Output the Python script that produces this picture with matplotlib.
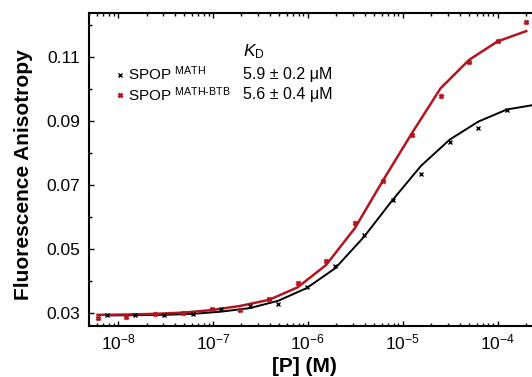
import matplotlib
matplotlib.use('Agg')
import matplotlib.pyplot as plt
from matplotlib.lines import Line2D

plt.rcParams['font.family'] = 'Liberation Sans'
plt.rcParams['mathtext.fontset'] = 'custom'
plt.rcParams['mathtext.rm'] = 'Liberation Sans'
plt.rcParams['mathtext.it'] = 'Liberation Sans:italic'
plt.rcParams['mathtext.bf'] = 'Liberation Sans:bold'

# SPOP MATH-BTB (red), 2-fold dilution series
conc_btb = [6.1e-9, 1.22e-8, 2.44e-8, 4.88e-8, 9.77e-8, 1.95e-7, 3.91e-7, 7.81e-7,
            1.56e-6, 3.13e-6, 6.25e-6, 1.25e-5, 2.5e-5, 5e-5, 1e-4, 2e-4]
fa_btb = [0.0283, 0.0288, 0.0297, 0.0299, 0.0311, 0.0308, 0.0344, 0.0395,
          0.0463, 0.0580, 0.0711, 0.0857, 0.0978, 0.1084, 0.1149, 0.1209]
fit_btb = [0.0294, 0.0295, 0.0297, 0.0301, 0.0309, 0.0322, 0.0341, 0.0380,
           0.0450, 0.0565, 0.0716, 0.0862, 0.1002, 0.1091, 0.1149, 0.1181]

# SPOP MATH (black)
conc_math = [7.63e-9, 1.53e-8, 3.05e-8, 6.1e-8, 1.22e-7, 2.44e-7, 4.88e-7, 9.77e-7,
             1.95e-6, 3.91e-6, 7.81e-6, 1.56e-5, 3.13e-5, 6.25e-5, 1.25e-4]
fa_math = [0.0292, 0.0294, 0.0292, 0.0297, 0.0312, 0.0322, 0.0328, 0.0380,
           0.0447, 0.0544, 0.0653, 0.0733, 0.0835, 0.0879, 0.0934]
fit_conc_math = conc_math + [2.5e-4]
fit_math = [0.0292, 0.0293, 0.0294, 0.0297, 0.0304, 0.0315, 0.0338, 0.0378,
            0.0440, 0.0538, 0.0653, 0.0760, 0.0842, 0.0898, 0.0936, 0.0951]

labels = ['SPOP $^{\\mathrm{MATH}}$', 'SPOP $^{\\mathrm{MATH\\text{-}BTB}}$']
kd_text = ['5.9 \u00b1 0.2 \u03bcM', '5.6 \u00b1 0.4 \u03bcM']
yticks = [0.03, 0.05, 0.07, 0.09, 0.11]

red = '#b2151d'

fig = plt.figure(figsize=(5.32, 3.77), dpi=100)
ax = fig.add_axes([0.168, 0.136, 0.832, 0.829])

ax.plot(fit_conc_math, fit_math, color='black', lw=1.4, zorder=2)
ax.plot(conc_btb, fit_btb, color=red, lw=1.8, zorder=3)
ax.plot(conc_math, fa_math, ls='none', marker='x', ms=3.5, mew=1.0, color='black', zorder=4)
ax.plot(conc_btb, fa_btb, ls='none', marker='x', ms=3.2, mew=1.8, color=red, zorder=4)

ax.set_xscale('log')
ax.set_xlim(5e-9, 2.3e-4)
ax.set_ylim(0.026, 0.1237)
ax.set_yticks(yticks)
ax.set_yticklabels(['%.2f' % v for v in yticks])
ax.set_yticks([0.04, 0.06, 0.08, 0.10, 0.12], minor=True)

for s in ['left', 'bottom', 'top']:
    ax.spines[s].set_linewidth(1.5)
ax.spines['right'].set_visible(False)
ax.tick_params(which='both', direction='in', top=True, right=False, width=1.0, labelsize=12.5)
ax.tick_params(axis='x', pad=5)
ax.tick_params(axis='y', pad=6.5)
ax.tick_params(which='major', length=3.5)
ax.tick_params(which='minor', length=2.2)

ax.set_ylabel('Fluorescence Anisotropy', fontsize=15, fontweight='bold')
ax.yaxis.set_label_coords(-0.128, 0.485)
ax.set_xlabel('[P] (M)', fontsize=15, fontweight='bold')
ax.xaxis.set_label_coords(0.485, -0.10)

handles = [Line2D([], [], ls='none', marker='x', ms=3.5, mew=1.0, color='black'),
           Line2D([], [], ls='none', marker='x', ms=3.2, mew=1.8, color=red)]
ax.legend(handles, labels, loc='upper left', bbox_to_anchor=(0.044, 0.86), frameon=False,
          fontsize=11, handlelength=0.5, handletextpad=0.25, labelspacing=0.12, borderpad=0)

fig.text(243 / 532, 1 - 52 / 377, '$K_{\\mathrm{D}}$', fontsize=12.5, va='center', ha='left')
fig.text(243 / 532, 1 - 75 / 377, kd_text[0], fontsize=11.5, va='center', ha='left')
fig.text(243 / 532, 1 - 95 / 377, kd_text[1], fontsize=11.5, va='center', ha='left')

fig.savefig('out.png', dpi=100)
